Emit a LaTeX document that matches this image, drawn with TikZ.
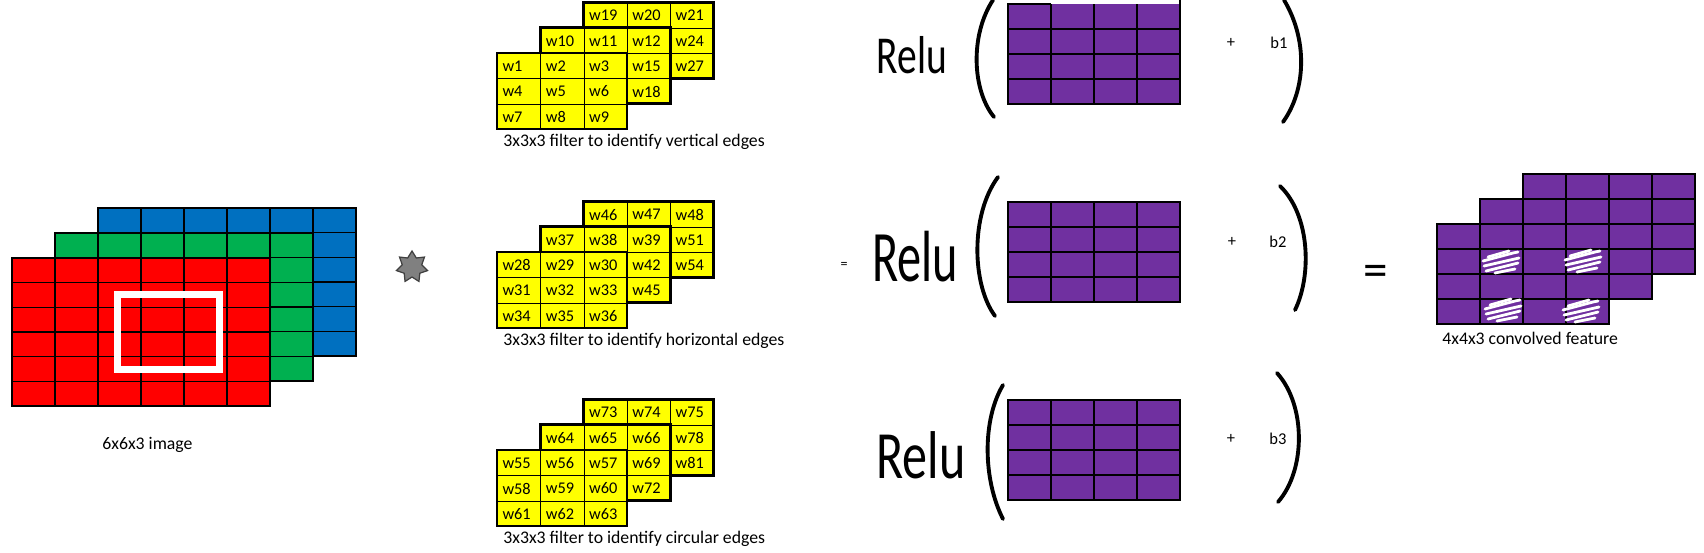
\documentclass[tikz,border=0pt]{standalone}
\usepackage{fontspec}
\setmainfont{Carlito}
\usepackage{tikz}
\usetikzlibrary{shapes.geometric, positioning}

\definecolor{ImgRed}{RGB}{255, 0, 0}
\definecolor{ImgGreen}{RGB}{0, 176, 80}
\definecolor{ImgBlue}{RGB}{0, 112, 192}
\definecolor{FilterYellow}{RGB}{255, 255, 0}
\definecolor{FeatPurple}{RGB}{112, 48, 160}
\definecolor{StarGray}{RGB}{128, 128, 128}

\begin{document}
\begin{tikzpicture}[
        x=0.02cm, y=-0.02cm,
        pix/.style={draw=black, line width=0.9pt},
        wcell/.style={draw=black, line width=0.6pt, fill=FilterYellow, anchor=north west, minimum height=0.506cm, text width=0.666cm, inner xsep=0.1cm, inner ysep=0pt, align=left, font=\fontsize{9.3}{10}\selectfont},
        rim/.style={draw=black, line width=1.4pt},
        gridline/.style={draw=black, line width=0.6pt},
        caption/.style={font=\fontsize{10.1}{12}\selectfont, anchor=west, inner sep=0pt},
        bias/.style={font=\fontsize{9.4}{11}\selectfont, inner sep=0pt},
        relu/.style={font=\fontsize{#1}{30}\selectfont, inner sep=0pt},
        paren/.style={line width=2.2pt, line cap=round},
        scribble/.style={white, line width=1.6pt, line cap=round}
    ]
        \useasboundingbox (0,0) rectangle (1704,552);

        % --- IMAGE 6x6x3 ---
        \foreach \col/\ox/\oy in {ImgBlue/98/208, ImgGreen/55/233, ImgRed/12/258} {
            \foreach \r in {0,...,5} \foreach \c in {0,...,5}
                \filldraw[pix, fill=\col] ({\ox+43*\c}, {\oy+24.67*\r}) rectangle ++(43, 24.67);
        }
        \draw[white, line width=0.14cm] (117,294.5) rectangle (219,369.5);
        \node[caption] (imgcap) at (102,445) {6x6x3 image};

        % convolution sign
        \node[star, star points=7, star point ratio=1.6, fill=StarGray, draw=black!75, line width=0.7pt, minimum size=0.64cm, inner sep=0pt] (conv) at (412,267) {};

        % --- FILTERS 3x3x3 ---
        \foreach \f/\top/\what in {0/53/vertical, 1/252/horizontal, 2/450/circular} {
            \foreach \l in {2,1,0} {
                \pgfmathsetmacro{\lx}{497+43.3*\l}
                \pgfmathsetmacro{\ly}{\top-25.3*\l}
                \foreach \r in {0,1,2} \foreach \c in {0,1,2} {
                    \pgfmathtruncatemacro{\n}{27*\f+9*\l+3*\r+\c+1}
                    \pgfmathtruncatemacro{\seen}{(\l==0)||(\r==0)||(\c==2)}
                    \ifnum\seen=1
                        \node[wcell] (w\n) at ({\lx+43.3*\c}, {\ly+25.3*\r}) {w\n};
                    \fi
                }
                \draw[rim] (\lx,\ly) rectangle ++(130,76);
            }
            \node[caption] (filtcap\f) at (503, \top+89) {3x3x3 filter to identify \what\ edges};
        }

        % --- RELU( . + b ) ---
        \foreach \k/\oy in {1/4, 2/202, 3/400} {
            \fill[FeatPurple] (1008,\oy) rectangle ++(172,100);
            \foreach \i in {1,2,3} {
                \draw[gridline] ({1008+43*\i}, \oy) -- ++(0,100);
                \draw[gridline] (1008, {\oy+25*\i}) -- ++(172,0);
            }
        }
        \draw[rim] (1051,4) -- (1008,4) -- (1008,104) -- (1180,104) -- (1180,0);
        \draw[rim] (1008,202) rectangle ++(172,100);
        \draw[rim] (1008,400) rectangle ++(172,100);

        \node[relu=22.5] (relu1) at (912,55) {\scalebox{1}[1.35]{Relu}};
        \node[relu=27.5] (relu2) at (915,257) {\scalebox{1}[1.5]{Relu}};
        \node[relu=28.5] (relu3) at (921,455) {\scalebox{1}[1.35]{Relu}};
        \node[font=\fontsize{8}{9}\selectfont, inner sep=0pt] (eqa) at (844,265) {=};

        \draw[paren] (993,0) .. controls (970,35) and (972,90) .. (994,117);
        \draw[paren] (1284,0) .. controls (1308,40) and (1306,90) .. (1283,122);
        \draw[paren] (998,177) .. controls (970,215) and (972,285) .. (995,316);
        \draw[paren] (1280,186) .. controls (1310,215) and (1312,275) .. (1295,310);
        \draw[paren] (1003,385) .. controls (982,420) and (983,480) .. (1003,519);
        \draw[paren] (1277,373) .. controls (1306,405) and (1306,470) .. (1278,502);

        \node[bias] (plus1) at (1231,43) {+};
        \node[bias] (plus2) at (1232,242) {+};
        \node[bias] (plus3) at (1231,439) {+};
        \node[bias] (b1) at (1279,43) {b1};
        \node[bias] (b2) at (1278,242) {b2};
        \node[bias] (b3) at (1278,439) {b3};

        % --- OUTPUT 4x4x3 ---
        \node[font=\fontsize{28}{30}\selectfont, inner sep=0pt] (eqb) at (1376,276) {=};
        \foreach \ox/\oy in {1523/174, 1480/199, 1437/224} {
            \fill[FeatPurple] (\ox,\oy) rectangle ++(172,100);
            \foreach \i in {1,2,3} {
                \draw[gridline] ({\ox+43*\i}, \oy) -- ++(0,100);
                \draw[gridline] (\ox, {\oy+25*\i}) -- ++(172,0);
            }
            \draw[rim] (\ox,\oy) rectangle ++(172,100);
        }
        \foreach \sx/\sy in {1501/262, 1583/261, 1503/310, 1581/311} {
            \begin{scope}[shift={(\sx,\sy)}]
                \draw[scribble] (-13,-5) -- (8,-11);
                \draw[scribble] (-18,-1) -- (12,-9) -- (17,-10);
                \draw[scribble] (-17,4) -- (18,-4);
                \draw[scribble] (-15,9) -- (17,1);
                \draw[scribble] (-6,11) -- (14,7);
            \end{scope}
        }
        \node[caption] (featcap) at (1442,338) {4x4x3 convolved feature};

\end{tikzpicture}
\end{document}
